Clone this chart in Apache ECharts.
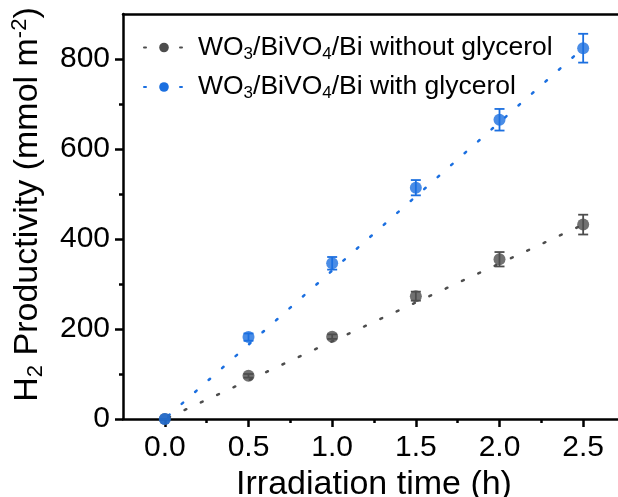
<!DOCTYPE html>
<html>
<head>
<meta charset="utf-8">
<script src="https://cdn.jsdelivr.net/npm/echarts@6/dist/echarts.min.js"></script>
<style>
  html, body { margin: 0; padding: 0; background: #fff; }
  #chart { width: 618px; height: 497px; }
</style>
</head>
<body>
<div id="chart"></div>
<script>
// data
var timeH = [0, 0.5, 1.0, 1.5, 2.0, 2.5];
var withoutGly = [0, 96, 183, 273, 355, 432];
var withoutErr = [0, 4, 5, 10, 16, 22];
var withGly = [0, 182, 346, 514, 665, 824];
var withErr = [0, 8, 14, 17, 24, 32];
// dotted fit lines
var fitX = [0.02, 2.5];
var fitWithout = [3, 432];
var fitWith = [7, 824];
// axis ticks
var xTicks = [0, 0.5, 1.0, 1.5, 2.0, 2.5];
var xMinorTicks = [0.25, 0.75, 1.25, 1.75, 2.25];
var yTicks = [0, 200, 400, 600, 800];
var yMinorTicks = [100, 300, 500, 700];

var nameA = "WO3/BiVO4/Bi without glycerol";
var nameB = "WO3/BiVO4/Bi with glycerol";
var legendRich = {};
legendRich[nameA] = "{n|WO}{s|3}{n|/BiVO}{s|4}{n|/Bi without glycerol}";
legendRich[nameB] = "{n|WO}{s|3}{n|/BiVO}{s|4}{n|/Bi with glycerol}";

var FONT = "Liberation Sans, Arial, sans-serif";
var GREY = "#4d4d4d";
var BLUE = "#1b6fe0";

function pairs(xs, ys) {
  return xs.map(function (x, i) { return [x, ys[i]]; });
}
function errData(xs, ys, es) {
  return xs.map(function (x, i) { return [x, ys[i] - es[i], ys[i] + es[i]]; });
}
function errRender(color) {
  return function (params, api) {
    var x = api.value(0);
    var top = api.coord([x, api.value(2)]);
    var bot = api.coord([x, api.value(1)]);
    var w = 5;
    var st = { stroke: color, lineWidth: 1.8 };
    return {
      type: "group",
      children: [
        { type: "line", shape: { x1: top[0], y1: top[1], x2: bot[0], y2: bot[1] }, style: st },
        { type: "line", shape: { x1: top[0] - w, y1: top[1], x2: top[0] + w, y2: top[1] }, style: st },
        { type: "line", shape: { x1: bot[0] - w, y1: bot[1], x2: bot[0] + w, y2: bot[1] }, style: st }
      ]
    };
  };
}

var axisLineStyle = { color: "#000", width: 2.5 };

var myChart = echarts.init(document.getElementById("chart"), null, { renderer: "canvas" });

myChart.setOption({
  animation: false,
  backgroundColor: "#fff",
  textStyle: { fontFamily: FONT },
  grid: { left: 123, right: -7, top: 14, bottom: 78, containLabel: false, outerBoundsMode: "none" },
  legend: {
    left: 138,
    top: 29,
    orient: "vertical",
    itemWidth: 40,
    itemHeight: 12,
    itemGap: 11,
    data: [nameA, nameB],
    formatter: function (n) { return legendRich[n]; },
    textStyle: {
      color: "#000",
      fontFamily: FONT,
      fontSize: 26,
      padding: [0, 0, 0, 9],
      rich: {
        n: { fontSize: 26.5, fontFamily: FONT, color: "#000", lineHeight: 30 },
        s: { fontSize: 17, fontFamily: FONT, color: "#000", lineHeight: 14, verticalAlign: "bottom" }
      }
    }
  },
  xAxis: [
    {
      type: "value",
      min: -0.25,
      max: 2.75,
      position: "bottom",
      axisLine: { show: true, onZero: false, lineStyle: axisLineStyle },
      axisTick: { show: true, customValues: xTicks, length: 8, lineStyle: axisLineStyle },
      axisLabel: {
        customValues: xTicks,
        formatter: function (v) { return v.toFixed(1); },
        fontSize: 30, color: "#000", fontFamily: FONT, margin: 14
      },
      splitLine: { show: false },
      name: "Irradiation time (h)",
      nameLocation: "middle",
      nameGap: 48,
      nameTextStyle: { fontSize: 34, color: "#000", fontFamily: FONT }
    },
    {
      type: "value",
      min: -0.25,
      max: 2.75,
      position: "bottom",
      axisLine: { show: false, onZero: false },
      axisTick: { show: true, customValues: xMinorTicks, length: 4, lineStyle: axisLineStyle },
      axisLabel: { show: false },
      splitLine: { show: false }
    },
    {
      type: "value",
      min: -0.25,
      max: 2.75,
      position: "top",
      axisLine: { show: true, onZero: false, lineStyle: axisLineStyle },
      axisTick: { show: false },
      axisLabel: { show: false },
      splitLine: { show: false }
    }
  ],
  yAxis: [
    {
      type: "value",
      min: 0,
      max: 900,
      position: "left",
      axisLine: { show: true, onZero: false, lineStyle: axisLineStyle },
      axisTick: { show: true, customValues: yTicks, length: 8, lineStyle: axisLineStyle },
      axisLabel: { customValues: yTicks, fontSize: 30, color: "#000", fontFamily: FONT, margin: 13 },
      splitLine: { show: false },
      name: "{n|H}{s|2}{n| Productivity (mmol m}{p|-2}{n|)}",
      nameLocation: "middle",
      nameGap: 76,
      nameTextStyle: {
        fontSize: 34, color: "#000", fontFamily: FONT,
        padding: [0, 0, 0, 24],
        rich: {
          n: { fontSize: 34, fontFamily: FONT, color: "#000", lineHeight: 38 },
          s: { fontSize: 22, fontFamily: FONT, color: "#000", lineHeight: 18, verticalAlign: "bottom" },
          p: { fontSize: 22, fontFamily: FONT, color: "#000", lineHeight: 18, verticalAlign: "top" }
        }
      }
    },
    {
      type: "value",
      min: 0,
      max: 900,
      position: "left",
      axisLine: { show: false, onZero: false },
      axisTick: { show: true, customValues: yMinorTicks, length: 4, lineStyle: axisLineStyle },
      axisLabel: { show: false },
      splitLine: { show: false }
    }
  ],
  series: [
    {
      name: nameA, type: "line", data: pairs(fitX, fitWithout),
      symbol: "circle", symbolSize: 11, showSymbol: false,
      itemStyle: { color: GREY },
      lineStyle: { color: GREY, width: 2.5, type: [2, 16], cap: "round" },
      z: 2
    },
    {
      name: nameB, type: "line", data: pairs(fitX, fitWith),
      symbol: "circle", symbolSize: 11, showSymbol: false,
      itemStyle: { color: BLUE },
      lineStyle: { color: BLUE, width: 2.5, type: [2, 16], cap: "round" },
      z: 2
    },
    {
      name: nameA, type: "custom", data: errData(timeH, withoutGly, withoutErr),
      encode: { x: 0, y: [1, 2] }, renderItem: errRender(GREY), z: 3
    },
    {
      name: nameB, type: "custom", data: errData(timeH, withGly, withErr),
      encode: { x: 0, y: [1, 2] }, renderItem: errRender(BLUE), z: 3
    },
    {
      name: nameA, type: "scatter", data: pairs(timeH, withoutGly),
      symbol: "circle", symbolSize: 12, itemStyle: { color: GREY }, z: 4
    },
    {
      name: nameB, type: "scatter", data: pairs(timeH, withGly),
      symbol: "circle", symbolSize: 12, itemStyle: { color: BLUE }, z: 5
    }
  ]
});
</script>
</body>
</html>
